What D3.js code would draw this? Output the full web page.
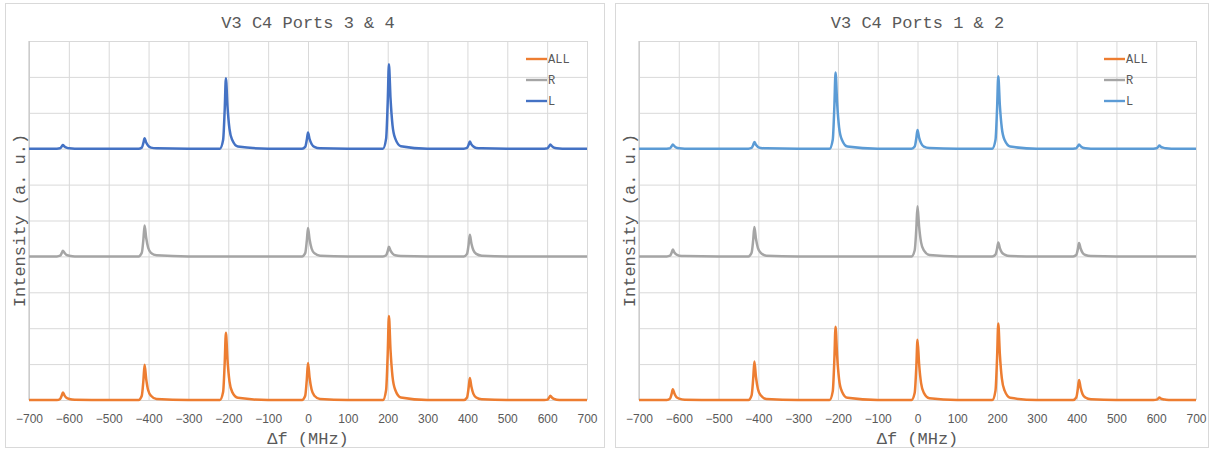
<!DOCTYPE html>
<html>
<head>
<meta charset="utf-8">
<script src="https://cdn.jsdelivr.net/npm/d3@7"></script>
<style>
  body { margin: 0; background: #fff; }
  .tick text { font-family: "Liberation Sans", Arial, sans-serif; font-size: 12px; fill: #595959; }
  .mono { font-family: "Liberation Mono", "DejaVu Sans Mono", monospace; fill: #595959; }
</style>
</head>
<body>
<div id="target"></div>
<script>

// frequency grid (MHz) shared by all traces
const freq = [
  -700,
  -630, -622, -618, -615, -611, -606, -599, -585,
  -500,
  -425, -417, -413, -410, -406, -401, -394, -380,
  -300,
  -221, -213, -209, -206, -202, -197, -190, -176,
  -100,
  -15, -7, -3, 0, 4, 9, 16, 30,
  100,
  188, 196, 200, 203, 207, 212, 219, 233,
  300,
  391, 399, 403, 406, 410, 415, 422, 436,
  500,
  593, 601, 605, 608, 612, 617, 624, 638,
  700
];

const seriesNames = ["ALL", "R", "L"];
// vertical offset of each trace (a. u.)
const seriesOffsets = [0, 4, 7];
const xTicks = [-700, -600, -500, -400, -300, -200, -100, 0, 100, 200, 300, 400, 500, 600, 700];

// Ports 3 & 4
const p34All = [
  0,
  0, 0.03, 0.12, 0.21, 0.13, 0.06, 0.03, 0.01,
  0,
  0, 0.12, 0.54, 0.98, 0.59, 0.27, 0.12, 0.03,
  0,
  0, 0.22, 1.03, 1.87, 1.12, 0.52, 0.22, 0.06,
  0,
  0, 0.12, 0.57, 1.03, 0.62, 0.29, 0.12, 0.03,
  0,
  0, 0.28, 1.29, 2.34, 1.40, 0.66, 0.28, 0.07,
  0,
  0, 0.07, 0.34, 0.61, 0.37, 0.17, 0.07, 0.02,
  0,
  0, 0.01, 0.07, 0.12, 0.07, 0.03, 0.01, 0,
  0
];
const p34R = [
  0,
  0, 0.02, 0.09, 0.16, 0.10, 0.04, 0.02, 0,
  0,
  0, 0.10, 0.47, 0.86, 0.52, 0.24, 0.10, 0.03,
  0,
  0, 0, 0, 0, 0, 0, 0, 0,
  0,
  0, 0.09, 0.43, 0.79, 0.47, 0.22, 0.09, 0.02,
  0,
  0, 0.03, 0.15, 0.27, 0.16, 0.08, 0.03, 0.01,
  0,
  0, 0.07, 0.33, 0.60, 0.36, 0.17, 0.07, 0.02,
  0,
  0, 0, 0, 0, 0, 0, 0, 0,
  0
];
const p34L = [
  0,
  0, 0.01, 0.06, 0.10, 0.06, 0.03, 0.01, 0,
  0,
  0, 0.03, 0.16, 0.29, 0.17, 0.08, 0.03, 0.01,
  0,
  0, 0.24, 1.08, 1.96, 1.18, 0.55, 0.24, 0.06,
  0,
  0, 0.05, 0.25, 0.45, 0.27, 0.13, 0.05, 0.01,
  0,
  0, 0.28, 1.29, 2.35, 1.41, 0.66, 0.28, 0.07,
  0,
  0, 0.02, 0.11, 0.20, 0.12, 0.06, 0.02, 0.01,
  0,
  0, 0.01, 0.07, 0.12, 0.07, 0.03, 0.01, 0,
  0
];

// Ports 1 & 2
const p12All = [
  0,
  0, 0.04, 0.17, 0.30, 0.18, 0.08, 0.04, 0.01,
  0,
  0, 0.13, 0.59, 1.07, 0.64, 0.30, 0.13, 0.03,
  0,
  0, 0.24, 1.12, 2.04, 1.22, 0.57, 0.24, 0.06,
  0,
  0, 0.20, 0.92, 1.68, 1.01, 0.47, 0.20, 0.05,
  0,
  0, 0.26, 1.17, 2.13, 1.28, 0.60, 0.26, 0.06,
  0,
  0, 0.07, 0.31, 0.56, 0.34, 0.16, 0.07, 0.02,
  0,
  0, 0.01, 0.04, 0.07, 0.04, 0.02, 0.01, 0,
  0
];
const p12R = [
  0,
  0, 0.02, 0.10, 0.19, 0.11, 0.05, 0.02, 0.01,
  0,
  0, 0.10, 0.45, 0.82, 0.49, 0.23, 0.10, 0.02,
  0,
  0, 0, 0, 0, 0, 0, 0, 0,
  0,
  0, 0.17, 0.77, 1.40, 0.84, 0.39, 0.17, 0.04,
  0,
  0, 0.05, 0.21, 0.39, 0.23, 0.11, 0.05, 0.01,
  0,
  0, 0.04, 0.20, 0.37, 0.22, 0.10, 0.04, 0.01,
  0,
  0, 0, 0, 0, 0, 0, 0, 0,
  0
];
const p12L = [
  0,
  0, 0.01, 0.07, 0.12, 0.07, 0.03, 0.01, 0,
  0,
  0, 0.02, 0.10, 0.19, 0.11, 0.05, 0.02, 0.01,
  0,
  0, 0.25, 1.17, 2.12, 1.27, 0.59, 0.25, 0.06,
  0,
  0, 0.06, 0.29, 0.52, 0.31, 0.15, 0.06, 0.02,
  0,
  0, 0.24, 1.11, 2.02, 1.21, 0.57, 0.24, 0.06,
  0,
  0, 0.01, 0.07, 0.12, 0.07, 0.03, 0.01, 0,
  0,
  0, 0.01, 0.05, 0.09, 0.05, 0.03, 0.01, 0,
  0
];

const width = 1211,
  height = 451;

const svg = d3.select("#target").append("svg")
  .attr("width", width)
  .attr("height", height);

function drawChart(cfg) {
  const x = d3.scaleLinear().domain([-700, 700]).range([cfg.left, cfg.right]);
  const y = d3.scaleLinear().domain([0, 10]).range([400, 41]);

  const g = svg.append("g");

  // panel border
  g.append("rect")
    .attr("x", cfg.panel[0] + 0.5)
    .attr("y", 3.5)
    .attr("width", cfg.panel[1] - cfg.panel[0])
    .attr("height", 444)
    .attr("fill", "#fff")
    .attr("stroke", "#d9d9d9");

  // grid
  g.append("g")
    .attr("transform", `translate(0,${y(0)})`)
    .call(d3.axisBottom(x).tickValues(xTicks).tickSize(-(y(0) - y(10))).tickFormat(""))
    .call((s) => s.select(".domain").remove())
    .selectAll("line").attr("stroke", "#d9d9d9");

  g.append("g")
    .attr("transform", `translate(${x(-700)},0)`)
    .call(d3.axisLeft(y).ticks(10).tickSize(-(x(700) - x(-700))).tickFormat(""))
    .call((s) => s.select(".domain").remove())
    .selectAll("line").attr("stroke", "#d9d9d9");

  g.append("line")
    .attr("x1", x(-700)).attr("x2", x(-700))
    .attr("y1", y(0)).attr("y2", y(10))
    .attr("stroke", "#bfbfbf");

  // x tick labels
  g.append("g")
    .attr("transform", `translate(0,${y(0)})`)
    .call(d3.axisBottom(x).tickValues(xTicks).tickSize(0).tickPadding(14))
    .call((s) => s.select(".domain").remove());

  const line = d3.line()
    .x((d) => x(d[0]))
    .y((d) => y(d[1]))
    .curve(d3.curveMonotoneX);

  cfg.series.forEach((vals, i) => {
    g.append("path")
      .datum(freq.map((f, j) => [f, vals[j] + seriesOffsets[i]]))
      .attr("d", line)
      .attr("fill", "none")
      .attr("stroke", cfg.colors[i])
      .attr("stroke-width", 2.5)
      .attr("stroke-linejoin", "round");
  });

  // legend
  const leg = g.selectAll(".leg")
    .data(seriesNames)
    .enter()
    .append("g")
    .attr("transform", (d, i) => `translate(${cfg.legendX},${59 + i * 21})`);

  leg.append("line")
    .attr("x1", 0).attr("x2", 21)
    .attr("stroke", (d, i) => cfg.colors[i])
    .attr("stroke-width", 2.4);

  leg.append("text")
    .attr("class", "mono")
    .attr("x", 22)
    .attr("dy", "0.35em")
    .style("font-size", "12px")
    .text((d) => d);

  // titles
  g.append("text")
    .attr("class", "mono")
    .attr("x", (cfg.left + cfg.right) / 2)
    .attr("y", 28)
    .attr("text-anchor", "middle")
    .style("font-size", "17px")
    .text(cfg.title);

  g.append("text")
    .attr("class", "mono")
    .attr("x", (cfg.left + cfg.right) / 2)
    .attr("y", 444)
    .attr("text-anchor", "middle")
    .style("font-size", "17px")
    .text("Δf (MHz)");

  g.append("text")
    .attr("class", "mono")
    .attr("transform", `translate(${cfg.left - 4},${(y(0) + y(10)) / 2}) rotate(-90)`)
    .attr("text-anchor", "middle")
    .style("font-size", "17px")
    .text("Intensity (a. u.)");
}

drawChart({
  title: "V3 C4 Ports 3 & 4",
  panel: [5, 604],
  left: 29,
  right: 587,
  legendX: 526,
  colors: ["#ED7D31", "#A5A5A5", "#4472C4"],
  series: [p34All, p34R, p34L]
});

drawChart({
  title: "V3 C4 Ports 1 & 2",
  panel: [615, 1208],
  left: 639,
  right: 1196,
  legendX: 1104,
  colors: ["#ED7D31", "#A5A5A5", "#5B9BD5"],
  series: [p12All, p12R, p12L]
});

</script>
</body>
</html>
